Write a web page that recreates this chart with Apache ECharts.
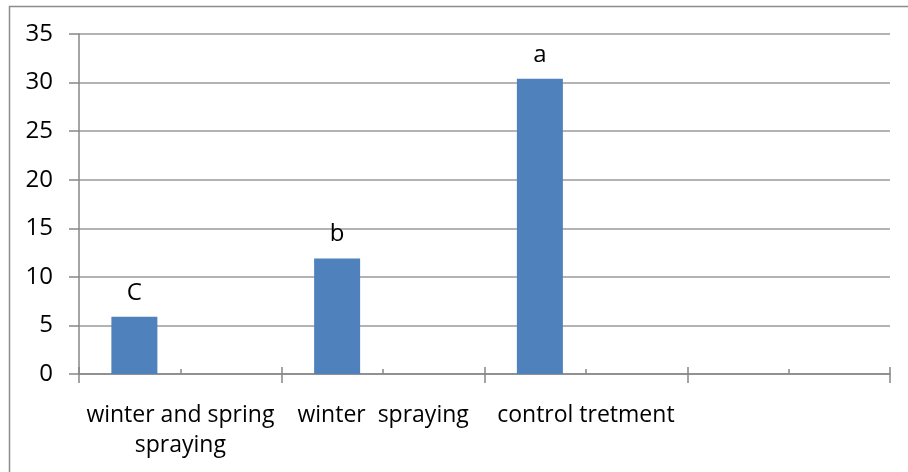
<!DOCTYPE html>
<html>
<head>
<meta charset="utf-8">
<script src="https://cdn.jsdelivr.net/npm/echarts@6/dist/echarts.min.js"></script>
<style>
  html, body { margin: 0; padding: 0; background: #fff; }
  #main { width: 908px; height: 472px; }
</style>
</head>
<body>
<div id="main"></div>
<script>
var categories = ["winter and spring\nspraying", "winter  spraying", "control tretment", ""];
var values = [5.9, 11.9, 30.4, null];
var letters = ["C", "b", "a", ""];
var series2 = [];
var series3 = [];
var yTicks = { min: 0, max: 35, interval: 5 };

var chartDom = document.getElementById("main");
var myChart = echarts.init(chartDom);
var option;

var axisGray = "#878787";
var gridGray = "#9a9a9a";
var font = "Open Sans";

option = {
  animation: false,
  grid: { left: 79, right: 18, top: 34, bottom: 98 },
  graphic: [
    {
      type: "rect",
      shape: { x: 9.5, y: 6.5, width: 1000, height: 1000 },
      style: { fill: null, stroke: "#8c8c8c", lineWidth: 1.5 },
      silent: true,
    },
  ],
  xAxis: [
    {
      type: "category",
      position: "bottom",
      data: categories,
      axisLine: { lineStyle: { color: axisGray, width: 1.5 } },
      axisTick: { show: true, interval: 0, length: 9, lineStyle: { color: axisGray, width: 1.5 } },
      axisLabel: {
        interval: 0,
        margin: 26,
        color: "#000",
        fontFamily: font,
        fontSize: 23,
        lineHeight: 30,
      },
    },
    {
      type: "category",
      position: "bottom",
      data: categories,
      axisLine: { show: false },
      axisLabel: { show: false },
      axisTick: { show: true, inside: true, interval: 0, length: 7, lineStyle: { color: axisGray, width: 1.5 } },
    },
    {
      type: "category",
      position: "bottom",
      data: categories,
      axisLine: { show: false },
      axisLabel: { show: false },
      axisTick: { show: true, inside: true, alignWithLabel: true, interval: 0, length: 5, lineStyle: { color: axisGray, width: 1.5 } },
    },
  ],
  yAxis: {
    type: "value",
    min: yTicks.min,
    max: yTicks.max,
    interval: yTicks.interval,
    axisLine: { show: true, lineStyle: { color: axisGray, width: 1.5 } },
    axisTick: { show: true, length: 10, lineStyle: { color: axisGray, width: 1.5 } },
    splitLine: { lineStyle: { color: gridGray, width: 1.5 } },
    axisLabel: { margin: 26, color: "#000", fontFamily: font, fontSize: 24 },
  },
  series: [
    {
      name: "Series1",
      type: "bar",
      data: values,
      barWidth: 46,
      barGap: "0%",
      itemStyle: { color: "#4f81bd" },
      label: {
        show: true,
        position: "top",
        distance: 12,
        color: "#000",
        fontFamily: font,
        fontSize: 24,
        formatter: function (p) {
          return letters[p.dataIndex];
        },
      },
    },
    { name: "Series2", type: "bar", data: series2, barWidth: 46, barGap: "0%" },
    { name: "Series3", type: "bar", data: series3, barWidth: 46, barGap: "0%" },
  ],
};
myChart.setOption(option);
</script>
</body>
</html>
